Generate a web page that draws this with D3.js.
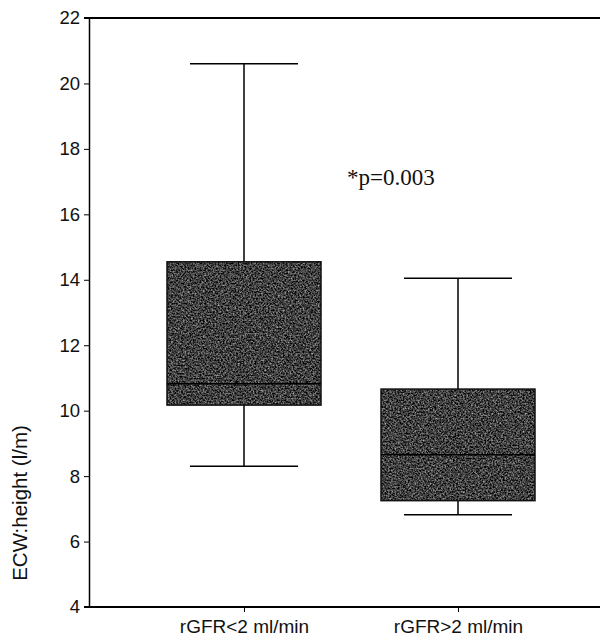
<!DOCTYPE html>
<html>
<head>
<meta charset="utf-8">
<script src="https://cdn.jsdelivr.net/npm/d3@7"></script>
<style>
  body { margin: 0; background: #fff; }
  svg { display: block; }
</style>
</head>
<body>
<script>
// box plot data
var groups = ["rGFR<2 ml/min", "rGFR>2 ml/min"];
var whiskerLow = [8.3, 6.82];
var q1 = [10.17, 7.25];
var median = [10.82, 8.65];
var q3 = [14.55, 10.66];
var whiskerHigh = [20.6, 14.05];
var yTicks = [4, 6, 8, 10, 12, 14, 16, 18, 20, 22];
var note = "*p=0.003";

var width = 603, height = 637;
var plotLeft = 89, plotTop = 18, plotRight = 600, plotBottom = 607;

var svg = d3.select("body").append("svg")
    .attr("width", width)
    .attr("height", height);

// grainy texture for the boxes
var defs = svg.append("defs");
var filt = defs.append("filter").attr("id", "grain")
    .attr("color-interpolation-filters", "sRGB")
    .attr("x", 0).attr("y", 0).attr("width", 1).attr("height", 1);
filt.append("feTurbulence")
    .attr("type", "fractalNoise")
    .attr("baseFrequency", 0.6)
    .attr("numOctaves", 3)
    .attr("seed", 7)
    .attr("result", "noise");
filt.append("feColorMatrix")
    .attr("in", "noise")
    .attr("type", "matrix")
    .attr("values", "1.1 0 0 0 -0.3  1.1 0 0 0 -0.3  1.1 0 0 0 -0.3  0 0 0 0 1")
    .attr("result", "grey");
filt.append("feComposite")
    .attr("in", "grey")
    .attr("in2", "SourceGraphic")
    .attr("operator", "in");

var y = d3.scaleLinear().domain([4, 22]).range([plotBottom, plotTop]);
var x = d3.scalePoint().domain(groups).range([244, 458]);

// top frame line
svg.append("line").attr("x1", 84).attr("x2", plotRight).attr("y1", plotTop).attr("y2", plotTop)
    .attr("stroke", "#000").attr("stroke-width", 2);

var yAxis = svg.append("g")
    .attr("transform", "translate(" + plotLeft + ",0)")
    .call(d3.axisLeft(y).tickValues(yTicks).tickSize(5).tickSizeOuter(0));
yAxis.select(".domain").attr("stroke-width", 1.5);
yAxis.selectAll("text")
    .attr("font-family", "Liberation Sans, Arial, sans-serif")
    .attr("font-size", 18.5)
    .attr("fill", "#111")
    .attr("x", -9);

var xAxis = svg.append("g")
    .attr("transform", "translate(0," + plotBottom + ")")
    .call(d3.axisBottom(x).tickSize(5).tickSizeOuter(0));
xAxis.select(".domain").attr("d", "M84,0H" + plotRight).attr("stroke-width", 2);
xAxis.selectAll("text")
    .attr("font-family", "Liberation Sans, Arial, sans-serif")
    .attr("font-size", 19)
    .attr("fill", "#111")
    .attr("y", 26)
    .attr("dy", null);

// boxes
var boxW = 154, capW = 108;
var data = groups.map(function(g, i){
    return { g: g, lo: whiskerLow[i], q1: q1[i], med: median[i], q3: q3[i], hi: whiskerHigh[i] };
});

var box = svg.selectAll(".box").data(data).enter().append("g").attr("class", "box");

box.append("line")
    .attr("x1", function(d){ return x(d.g); })
    .attr("x2", function(d){ return x(d.g); })
    .attr("y1", function(d){ return y(d.hi); })
    .attr("y2", function(d){ return y(d.lo); })
    .attr("stroke", "#000").attr("stroke-width", 1.5);

box.selectAll(".cap").data(function(d){ return [[d.g, d.hi], [d.g, d.lo]]; })
    .enter().append("line")
    .attr("x1", function(d){ return x(d[0]) - capW / 2; })
    .attr("x2", function(d){ return x(d[0]) + capW / 2; })
    .attr("y1", function(d){ return y(d[1]); })
    .attr("y2", function(d){ return y(d[1]); })
    .attr("stroke", "#000").attr("stroke-width", 1.5);

box.append("rect")
    .attr("x", function(d){ return x(d.g) - boxW / 2; })
    .attr("y", function(d){ return y(d.q3); })
    .attr("width", boxW)
    .attr("height", function(d){ return y(d.q1) - y(d.q3); })
    .attr("fill", "#444")
    .attr("filter", "url(#grain)");

box.append("rect")
    .attr("x", function(d){ return x(d.g) - boxW / 2; })
    .attr("y", function(d){ return y(d.q3); })
    .attr("width", boxW)
    .attr("height", function(d){ return y(d.q1) - y(d.q3); })
    .attr("fill", "none")
    .attr("stroke", "#111").attr("stroke-width", 1.5);

box.append("line")
    .attr("x1", function(d){ return x(d.g) - boxW / 2; })
    .attr("x2", function(d){ return x(d.g) + boxW / 2; })
    .attr("y1", function(d){ return y(d.med); })
    .attr("y2", function(d){ return y(d.med); })
    .attr("stroke", "#000").attr("stroke-width", 1.5);

// labels
svg.append("text")
    .attr("transform", "translate(27,503) rotate(-90)")
    .attr("text-anchor", "middle")
    .attr("font-family", "Liberation Sans, Arial, sans-serif")
    .attr("font-size", 20.5)
    .attr("fill", "#111")
    .text("ECW:height (l/m)");

svg.append("text")
    .attr("x", 347).attr("y", 185)
    .attr("font-family", "Liberation Serif, Times New Roman, serif")
    .attr("font-size", 23)
    .attr("fill", "#111")
    .text(note);
</script>
</body>
</html>
